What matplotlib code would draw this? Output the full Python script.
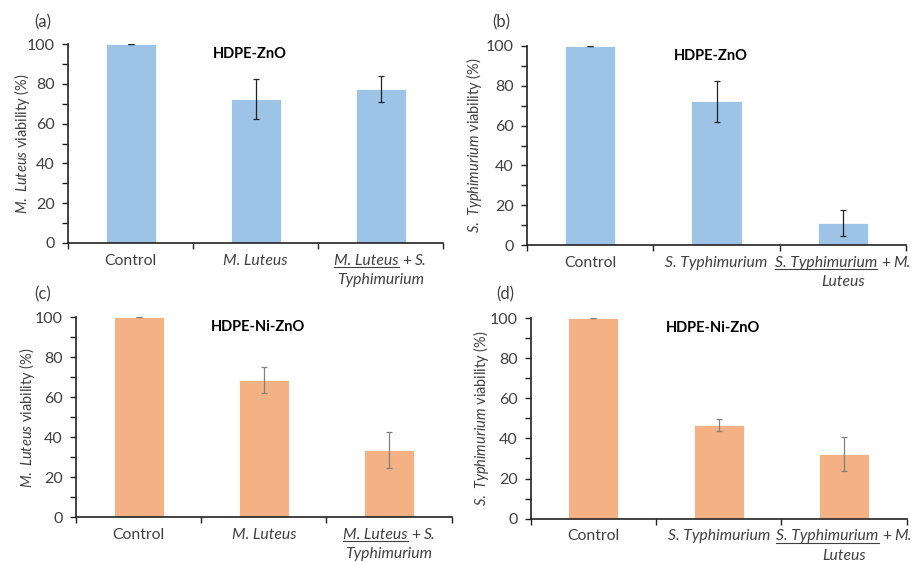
import matplotlib
matplotlib.use("Agg")
import matplotlib.pyplot as plt
from matplotlib.ticker import MultipleLocator
from matplotlib.lines import Line2D

plt.rcParams['font.family'] = 'Lato'
plt.rcParams['mathtext.fontset'] = 'custom'
plt.rcParams['mathtext.rm'] = 'Lato'
plt.rcParams['mathtext.it'] = 'Lato:italic'

TEXT = '#404040'
FS = 10.5      # titles / y labels
XFS = 11.3     # category labels
YFS = 11.5     # y tick labels

# --- data ---
zno_luteus = [100, 72.5, 77.2]
zno_luteus_err = [0, 10, 6.5]
zno_typh = [100, 72.1, 11]
zno_typh_err = [0, 10.3, 6.5]
nizno_luteus = [100, 68.6, 33.8]
nizno_luteus_err = [0, 6.5, 9]
nizno_typh = [100, 46.8, 32.2]
nizno_typh_err = [0, 3, 8.3]

# x labels: lines of (text, italic, underline) pieces
luteus_xlabels = [
    [[("Control", False, False)]],
    [[("M. Luteus", True, False)]],
    [[("M. Luteus", True, True), ("+", False, False), ("S.", True, False)],
     [("Typhimurium", True, False)]],
]
typh_xlabels = [
    [[("Control", False, False)]],
    [[("S. Typhimurium", True, False)]],
    [[("S. Typhimurium", True, True), ("+", False, False), ("M.", True, False)],
     [("Luteus", True, False)]],
]

blue = '#9dc3e6'
orange = '#f4b183'

fig = plt.figure(figsize=(9.24, 5.62), dpi=100)

panels = [
    # rect, values, errs, color, ecolor, title, ylabel, xlabels, tag, tag_pos, ylabel_x
    ([68/924, 1-243/562, 375/924, 199/562], zno_luteus, zno_luteus_err, blue, '#222222',
     'HDPE-ZnO', r'$\mathit{M.\ Luteus}$ viability (%)', luteus_xlabels, '(a)', (43, 22), 22),
    ([527/924, 1-245.3/562, 379/924, 199.6/562], zno_typh, zno_typh_err, blue, '#222222',
     'HDPE-ZnO', r'$\mathit{S.\ Typhimurium}$ viability (%)', typh_xlabels, '(b)', (501, 22), 474),
    ([76/924, 1-517.3/562, 375.7/924, 200/562], nizno_luteus, nizno_luteus_err, orange, '#808080',
     'HDPE-Ni-ZnO', r'$\mathit{M.\ Luteus}$ viability (%)', luteus_xlabels, '(c)', (43, 294), 27),
    ([530.7/924, 1-518.7/562, 376/924, 200.7/562], nizno_typh, nizno_typh_err, orange, '#808080',
     'HDPE-Ni-ZnO', r'$\mathit{S.\ Typhimurium}$ viability (%)', typh_xlabels, '(d)', (505, 294), 481),
]

H = 562
label_jobs = []
for rect, vals, errs, col, ecol, title, ylab, xlabs, tag, tagpos, ylx in panels:
    ax = fig.add_axes(rect)
    x = range(len(vals))
    ax.bar(x, vals, width=0.4, color=col, edgecolor='white', linewidth=0.6)
    ax.errorbar(x, vals, yerr=errs, fmt='none', ecolor=ecol, elinewidth=0.9,
                capsize=2.5, capthick=0.9)
    ax.set_xlim(-0.5, 2.5)
    ax.set_ylim(0, 100)
    ax.set_xticks([-0.5, 0.5, 1.5, 2.5])
    ax.set_xticklabels([])
    ax.yaxis.set_major_locator(MultipleLocator(20))
    ax.yaxis.set_minor_locator(MultipleLocator(10))
    ax.tick_params(axis='both', which='both', direction='out', length=4.5, width=1,
                   color='#222222', labelsize=YFS, labelcolor=TEXT)
    ax.tick_params(axis='y', pad=5)
    for s in ['top', 'right']:
        ax.spines[s].set_visible(False)
    for s in ['left', 'bottom']:
        ax.spines[s].set_color('#222222')
        ax.spines[s].set_linewidth(1.2)
    ax.text(0.485, 0.985, title, transform=ax.transAxes, ha='center', va='top',
            fontsize=FS, fontweight='bold', color='black')
    fig.text(tagpos[0]/924, 1-tagpos[1]/H, tag, ha='center', va='center',
             fontsize=12, color=TEXT)
    fig.text(ylx/924, rect[1] + rect[3]/2, ylab, rotation=90, ha='center', va='center',
             fontsize=FS, color=TEXT)
    label_jobs.append((ax, xlabs))

# place multi-style x labels
fig.canvas.draw()
renderer = fig.canvas.get_renderer()
inv = fig.transFigure.inverted()
gap = 3.5
for ax, xlabs in label_jobs:
    ybot = ax.transData.transform((0, 0))[1]
    for i, lines in enumerate(xlabs):
        xc = ax.transData.transform((i, 0))[0]
        for li, line in enumerate(lines):
            ybase = ybot - 21.5 - li * 19.5
            objs = []
            for txt, it, ul in line:
                t = fig.text(0, 0, txt, fontsize=XFS, color=TEXT,
                             style='italic' if it else 'normal',
                             ha='left', va='baseline')
                objs.append((t, ul))
            widths = [t.get_window_extent(renderer).width for t, _ in objs]
            total = sum(widths) + gap * (len(widths) - 1)
            xs = xc - total / 2
            for (t, ul), w in zip(objs, widths):
                fx, fy = inv.transform((xs, ybase))
                t.set_position((fx, fy))
                if ul:
                    p0 = inv.transform((xs, ybase - 2.5))
                    p1 = inv.transform((xs + w, ybase - 2.5))
                    fig.add_artist(Line2D([p0[0], p1[0]], [p0[1], p1[1]],
                                          transform=fig.transFigure,
                                          color=TEXT, linewidth=0.8))
                xs += w + gap

fig.savefig('out.png', dpi=100)
